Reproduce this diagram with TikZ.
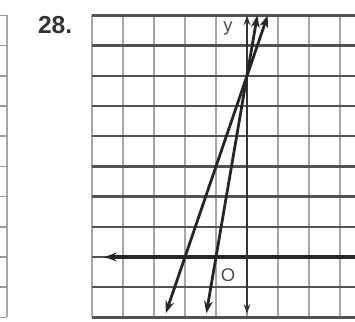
\documentclass[tikz,border=0pt]{standalone}
\usepackage{fontspec}
\setmainfont{Liberation Sans}
\usetikzlibrary{arrows.meta}
\begin{document}
\begin{tikzpicture}[
                x=0.62cm, y=0.604cm,
                >={Stealth[length=7pt,width=5pt]},
                vline/.style={gray!70, line width=1.6pt},
                hline/.style={black!68, line width=1.3pt},
                graph/.style={<->, line width=1.6pt, black!85},
                font=\fontsize{10.5}{12}\selectfont
            ]
            \useasboundingbox (-7.968,-2.152) rectangle (3.484,8.51);

            % 左边相邻的网格
            \draw[gray!70, line width=1.6pt] (-7.74,-2) -- (-7.74,8);
            \foreach \y in {-2,...,8}
                \draw[gray!80, line width=1pt] (-7.968,\y) -- (-7.74,\y);

            % 网格
            \foreach \x in {-5,...,3}
                \draw[vline] (\x,-2) -- (\x,8);
            \foreach \y in {-2,...,8}
                \draw[hline] (-5,\y) -- (3.484,\y);

            % 坐标轴
            \coordinate (xl) at (-4.6,0);
            \coordinate (xr) at (3.484,0);
            \coordinate (yb) at (0,-1.88);
            \coordinate (yt) at (0,8);
            \draw[<-, line width=1.9pt, black!85] (xl) -- (xr);
            \draw[<->, >={Stealth[length=5.5pt,width=3.8pt]}, line width=1pt, black!80] (yb) -- (yt);
            \node[black!70] (ylab) at (-0.61,7.55) {y};
            \node[black!70] (olab) at (-0.61,-0.6) {O};

            % 两条直线 y=3x+6 和 y=6x+6
            \coordinate (A1) at (-2.62,-1.86);
            \coordinate (A2) at (0.667,8);
            \coordinate (B1) at (-1.31,-1.86);
            \coordinate (B2) at (0.333,8);
            \draw[graph] (A1) -- (A2);
            \draw[graph] (B1) -- (B2);

            % 题号
            \node[black!80, font=\fontsize{14}{16}\selectfont\bfseries] (num) at (-6.19,7.68) {28.};
        \end{tikzpicture}
\end{document}
